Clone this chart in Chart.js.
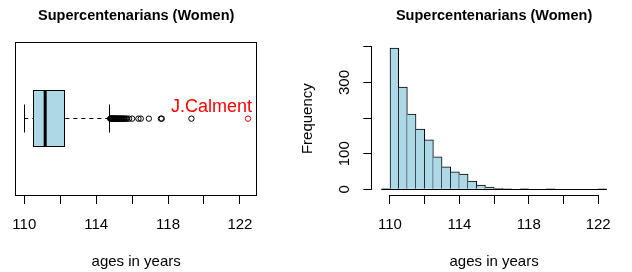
<!DOCTYPE html>
<html>
<head>
<meta charset="utf-8">
<script src="https://cdn.jsdelivr.net/npm/chart.js@4/dist/chart.umd.min.js"></script>
<style>
  html, body { margin: 0; padding: 0; background: #fff; }
  #wrap { position: relative; width: 632px; height: 272px; overflow: hidden; }
  canvas { position: absolute; top: 0; }
  #boxCanvas { left: 0; }
  #histCanvas { left: 290px; }
</style>
</head>
<body>
<div id="wrap">
  <canvas id="boxCanvas" width="290" height="272"></canvas>
  <canvas id="histCanvas" width="342" height="272"></canvas>
</div>
<script>
const chartTitle = "Supercentenarians (Women)";
const xLabel = "ages in years";
const yLabel = "Frequency";

const ageTicks = [110, 112, 114, 116, 118, 120, 122];
const ageTickLabels = ["110", "", "114", "", "118", "", "122"];

// boxplot stats: lower whisker, Q1, median, Q3, upper whisker
const boxStats = [110.0, 110.5, 111.16, 112.2, 114.73];
const outlierAges = [
    114.78, 114.8, 114.82, 114.85, 114.87, 114.9, 114.92, 114.95, 114.97, 115.0,
    115.03, 115.06, 115.09, 115.12, 115.15, 115.18, 115.22, 115.26, 115.3, 115.34,
    115.38, 115.42, 115.46, 115.5, 115.55, 115.6, 115.66, 115.72, 115.83, 116.0,
    116.35, 116.48, 116.93, 117.6, 117.65, 119.3
];
const calmentAge = [122.45];
const calmentName = "J.Calment";

// histogram
const binEdges = [
    109.5, 110, 110.5, 111, 111.5, 112, 112.5, 113, 113.5, 114, 114.5, 115, 115.5,
    116, 116.5, 117, 117.5, 118, 118.5, 119, 119.5, 120, 120.5, 121, 121.5, 122, 122.5
];
const binCounts = [
    2, 397, 287, 211, 169, 139, 91, 63, 49, 43, 23, 12, 6,
    3, 1, 0, 2, 0, 0, 1, 0, 0, 0, 0, 0, 1
];
const freqTicks = [0, 100, 200, 300, 400];
const freqTickLabels = ["0", "100", "", "300", ""];

Chart.defaults.font.family = "'Liberation Sans', Arial, sans-serif";
Chart.defaults.color = "#000";
Chart.defaults.animation = false;

const px = v => Math.floor(v) + 0.5;

// frame around the boxplot region
const framePlugin = {
    id: "frame",
    afterDraw(chart) {
        const { ctx, chartArea: a } = chart;
        ctx.save();
        ctx.strokeStyle = "#000";
        ctx.lineWidth = 1;
        ctx.strokeRect(px(a.left), px(a.top), Math.round(a.right - a.left) - 1, Math.round(a.bottom - a.top));
        ctx.restore();
    }
};

// box, median and whiskers from boxStats
const boxPlugin = {
    id: "rbox",
    beforeDatasetsDraw(chart) {
        const { ctx, scales: { x, y } } = chart;
        const [lo, q1, med, q3, hi] = boxStats;
        const yc = px(y.getPixelForValue(1));
        const yt = px(y.getPixelForValue(1.2));
        const yb = px(y.getPixelForValue(0.8));
        const st = px(y.getPixelForValue(1.1));
        const sb = px(y.getPixelForValue(0.9));
        ctx.save();
        ctx.strokeStyle = "#000";
        ctx.lineWidth = 1;
        // whiskers
        ctx.setLineDash([4, 4]);
        ctx.beginPath();
        ctx.moveTo(x.getPixelForValue(lo), yc);
        ctx.lineTo(x.getPixelForValue(q1), yc);
        ctx.moveTo(x.getPixelForValue(hi), yc);
        ctx.lineTo(x.getPixelForValue(q3), yc);
        ctx.stroke();
        ctx.setLineDash([]);
        // staples
        ctx.beginPath();
        ctx.moveTo(px(x.getPixelForValue(lo)), st);
        ctx.lineTo(px(x.getPixelForValue(lo)), sb);
        ctx.moveTo(px(x.getPixelForValue(hi)), st);
        ctx.lineTo(px(x.getPixelForValue(hi)), sb);
        ctx.stroke();
        // box
        const bx = px(x.getPixelForValue(q1));
        const bw = Math.round(x.getPixelForValue(q3) - x.getPixelForValue(q1));
        ctx.fillStyle = "#ADD8E6";
        ctx.fillRect(bx, yt, bw, yb - yt);
        ctx.strokeRect(bx, yt, bw, yb - yt);
        // median
        ctx.lineWidth = 3;
        ctx.beginPath();
        ctx.moveTo(x.getPixelForValue(med), yt);
        ctx.lineTo(x.getPixelForValue(med), yb);
        ctx.stroke();
        ctx.restore();
    }
};

const calmentPlugin = {
    id: "calment",
    afterDatasetsDraw(chart) {
        const pt = chart.getDatasetMeta(1).data[0];
        const { ctx } = chart;
        ctx.save();
        ctx.font = "18px 'Liberation Sans', Arial, sans-serif";
        ctx.fillStyle = "#FF0000";
        ctx.textAlign = "right";
        ctx.textBaseline = "alphabetic";
        ctx.fillText(calmentName, pt.x + 4, pt.y - 6.8);
        ctx.restore();
    }
};

// R style axis lines that only span the tick range, plus the histogram baseline
const histAxesPlugin = {
    id: "histAxes",
    afterDatasetsDraw(chart) {
        const { ctx, chartArea: a, scales: { x, y } } = chart;
        ctx.save();
        ctx.strokeStyle = "#000";
        ctx.lineWidth = 1;
        ctx.beginPath();
        const by = px(y.getPixelForValue(0));
        ctx.moveTo(x.getPixelForValue(binEdges[0]), by);
        ctx.lineTo(x.getPixelForValue(binEdges[binEdges.length - 1]), by);
        const ay = px(a.bottom);
        ctx.moveTo(x.getPixelForValue(ageTicks[0]), ay);
        ctx.lineTo(x.getPixelForValue(ageTicks[ageTicks.length - 1]), ay);
        const ax = px(a.left) - 1;
        ctx.moveTo(ax, y.getPixelForValue(freqTicks[0]));
        ctx.lineTo(ax, y.getPixelForValue(freqTicks[freqTicks.length - 1]));
        ctx.stroke();
        ctx.restore();
    }
};

const titleOpts = {
    display: true,
    text: chartTitle,
    fullSize: false,
    color: "#000",
    font: { size: 14.5, weight: "bold" },
    padding: { top: 7.0, bottom: 17.9 }
};

const ageAxis = (min, max) => ({
    type: "linear",
    min: min,
    max: max,
    offset: false,
    afterBuildTicks: s => { s.ticks = ageTicks.map(v => ({ value: v })); },
    afterFit: s => { s.height = 77; },
    border: { display: false },
    grid: { offset: false, drawOnChartArea: false, drawTicks: true, tickLength: 9, color: "#000", lineWidth: 1 },
    ticks: {
        autoSkip: false,
        maxRotation: 0,
        padding: 11.8,
        color: "#000",
        font: { size: 15 },
        callback: (v, i) => ageTickLabels[i]
    },
    title: { display: true, text: xLabel, color: "#000", font: { size: 15 }, padding: { top: 0, bottom: 1.2 } }
});

new Chart(document.getElementById("boxCanvas"), {
    type: "scatter",
    data: {
        datasets: [
            {
                data: outlierAges.map(a => ({ x: a, y: 1 })),
                pointStyle: "circle",
                pointRadius: 2.7,
                borderWidth: 1,
                borderColor: "#000",
                backgroundColor: "rgba(0,0,0,0)"
            },
            {
                data: calmentAge.map(a => ({ x: a, y: 1 })),
                pointStyle: "circle",
                pointRadius: 2.7,
                borderWidth: 1,
                borderColor: "#FF0000",
                backgroundColor: "rgba(0,0,0,0)"
            }
        ]
    },
    options: {
        responsive: false,
        animation: false,
        layout: { padding: { left: 13, right: 33, top: 0, bottom: 0 } },
        plugins: {
            legend: { display: false },
            tooltip: { enabled: false },
            title: titleOpts
        },
        scales: {
            x: ageAxis(109.5, 122.95),
            y: { type: "linear", display: false, min: 0.46, max: 1.54 }
        }
    },
    plugins: [boxPlugin, calmentPlugin, framePlugin]
});

const binMids = binCounts.map((c, i) => (binEdges[i] + binEdges[i + 1]) / 2);

new Chart(document.getElementById("histCanvas"), {
    type: "bar",
    data: {
        datasets: [
            {
                data: binCounts.map((c, i) => ({ x: binMids[i], y: c })),
                backgroundColor: "#ADD8E6",
                borderColor: "#000",
                borderSkipped: false,
                borderWidth: ctx => {
                    const i = ctx.dataIndex;
                    const prev = i > 0 ? binCounts[i - 1] : 0;
                    return { top: 1, right: 1, bottom: 0, left: prev < binCounts[i] ? 1 : 0 };
                },
                barPercentage: 1,
                categoryPercentage: 1,
                grouped: false
            }
        ]
    },
    options: {
        responsive: false,
        animation: false,
        layout: { padding: { left: 0, right: 16.1, top: 0, bottom: 0 } },
        plugins: {
            legend: { display: false },
            tooltip: { enabled: false },
            title: titleOpts
        },
        scales: {
            x: ageAxis(108.98, 123.02),
            y: {
                type: "linear",
                min: -15.9,
                max: 412.9,
                afterBuildTicks: s => { s.ticks = freqTicks.map(v => ({ value: v })); },
                afterFit: s => { s.width = 82.3; },
                border: { display: false },
                grid: { drawOnChartArea: false, drawTicks: true, tickLength: 9, color: "#000", lineWidth: 1 },
                ticks: {
                    autoSkip: false,
                    minRotation: 90,
                    maxRotation: 90,
                    crossAlign: "center",
                    padding: 6,
                    color: "#000",
                    font: { size: 15 },
                    callback: (v, i) => freqTickLabels[i]
                },
                title: { display: true, text: yLabel, color: "#000", font: { size: 15 }, padding: { top: 9.2, bottom: 0 } }
            }
        }
    },
    plugins: [histAxesPlugin]
});
</script>
</body>
</html>
